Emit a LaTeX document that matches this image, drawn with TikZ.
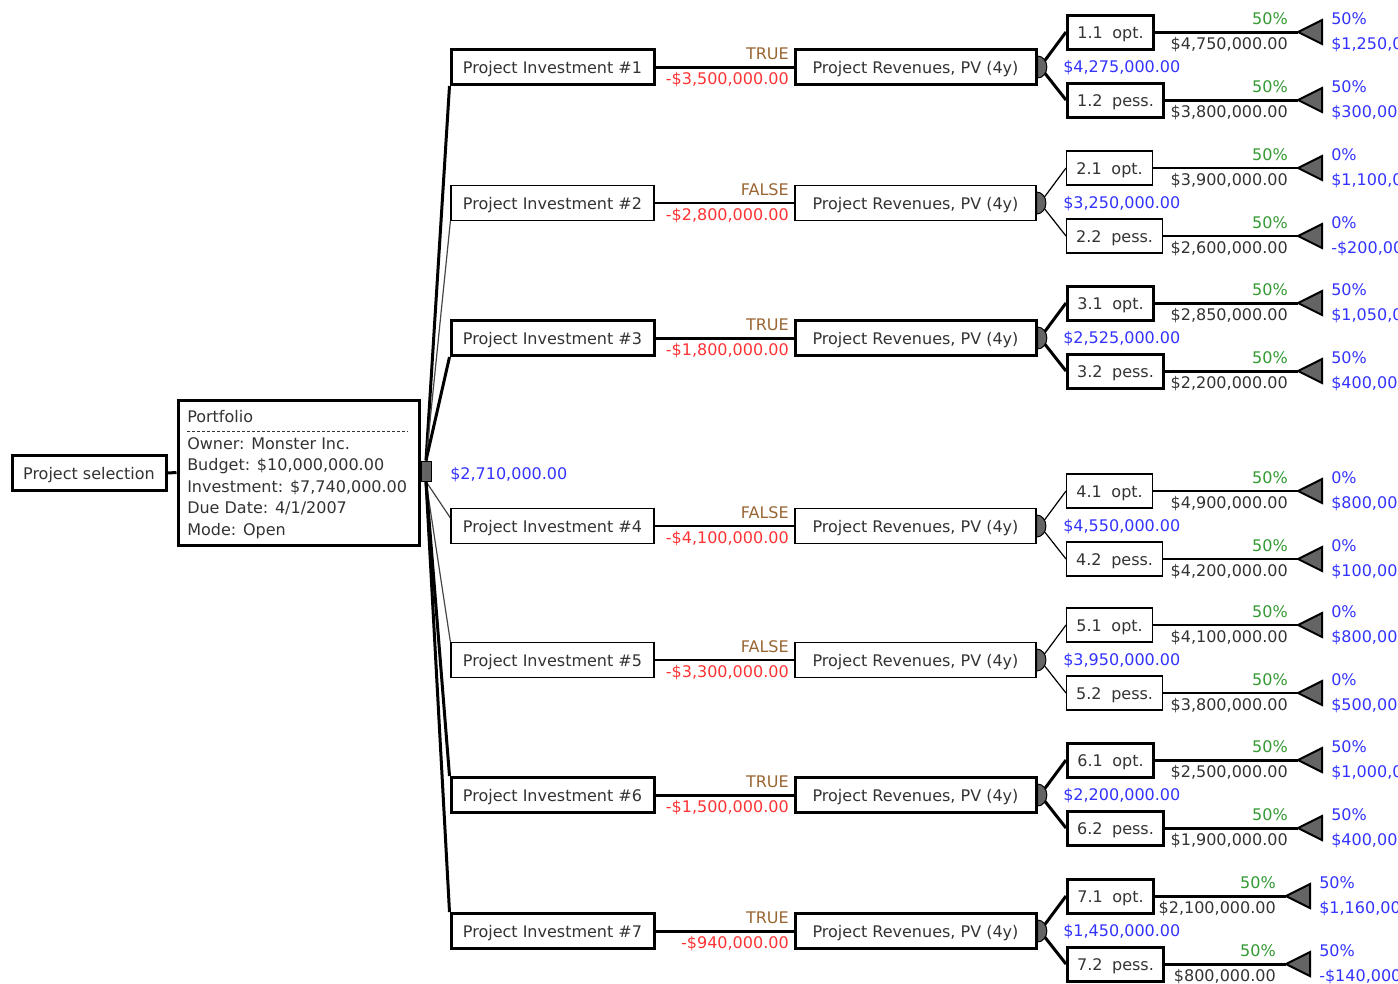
\documentclass[tikz,border=0pt]{standalone}
\usepackage{fontspec}
\setmainfont{DejaVu Sans}
\usetikzlibrary{calc}
\definecolor{txtgray}{RGB}{51,51,51}
\definecolor{evblue}{RGB}{51,51,255}
\definecolor{probgreen}{RGB}{51,153,51}
\definecolor{flagbrown}{RGB}{153,102,51}
\definecolor{costred}{RGB}{255,51,51}
\definecolor{nodegray}{RGB}{100,100,100}
\definecolor{thingray}{RGB}{70,70,70}
\pgfdeclarelayer{links}
\pgfsetlayers{links,main}

\begin{document}
\begin{tikzpicture}[x=0.75pt,y=-0.75pt,
  every node/.style={font=\fontsize{12}{14.4}\selectfont, text=txtgray},
  box/.style={draw=black, fill=white, inner sep=0pt, minimum height=26.25pt,
              text height=11.5pt, text depth=2pt},
  lbl/.style={inner sep=0pt, yshift=-1.5pt},
  heavy/.style={line width=2.25pt},
  light/.style={line width=0.9pt, draw=thingray},
]
\useasboundingbox (0,0) rectangle (1398,983);
\clip (0,0) rectangle (1398,983);

% root node and portfolio summary
\node[box, heavy, minimum width=115.5pt] (sel) at (89,473) {Project selection};
\node[box, heavy, minimum width=180.75pt, minimum height=108.75pt] (port) at (298.5,472.5) {};
\node[lbl, anchor=mid west] (ptitle) at (187,417) {Portfolio};
\draw[dash pattern=on 2.25pt off 1.5pt, line width=0.75pt, draw=txtgray] (187,431) -- (408,431);
\node[lbl, anchor=mid west] (powner) at (187,444) {Owner: Monster Inc.};
\node[lbl, anchor=mid west] (pbudget) at (187,465) {Budget: \$10,000,000.00};
\node[lbl, anchor=mid west] (pinvest) at (187,487) {Investment: \$7,740,000.00};
\node[lbl, anchor=mid west] (pdue) at (187,508) {Due Date: 4/1/2007};
\node[lbl, anchor=mid west] (pmode) at (187,530) {Mode: Open};
\draw[heavy] (sel.east) -- (port.west);

% decision node
\node[draw=black, fill=nodegray, line width=0.75pt, minimum width=7.5pt, minimum height=15pt, inner sep=0pt] (dec) at (426,471) {};
\node[lbl, anchor=mid west, text=evblue] (decev) at (450,474) {\$2,710,000.00};

% one branch per project
\foreach \n/\c/\lw/\tf/\cost/\ev/\va/\vb/\pa/\pb/\ra/\rb/\tx in {
  1/67/2.25/TRUE/{-\$3,500,000.00}/{\$4,275,000.00}/{\$4,750,000.00}/{\$3,800,000.00}/{50\%}/{50\%}/{\$1,250,000.00}/{\$300,000.00}/1298,
  2/203/0.9/FALSE/{-\$2,800,000.00}/{\$3,250,000.00}/{\$3,900,000.00}/{\$2,600,000.00}/{0\%}/{0\%}/{\$1,100,000.00}/{-\$200,000.00}/1298,
  3/338/2.25/TRUE/{-\$1,800,000.00}/{\$2,525,000.00}/{\$2,850,000.00}/{\$2,200,000.00}/{50\%}/{50\%}/{\$1,050,000.00}/{\$400,000.00}/1298,
  4/526/0.9/FALSE/{-\$4,100,000.00}/{\$4,550,000.00}/{\$4,900,000.00}/{\$4,200,000.00}/{0\%}/{0\%}/{\$800,000.00}/{\$100,000.00}/1298,
  5/660/0.9/FALSE/{-\$3,300,000.00}/{\$3,950,000.00}/{\$4,100,000.00}/{\$3,800,000.00}/{0\%}/{0\%}/{\$800,000.00}/{\$500,000.00}/1298,
  6/795/2.25/TRUE/{-\$1,500,000.00}/{\$2,200,000.00}/{\$2,500,000.00}/{\$1,900,000.00}/{50\%}/{50\%}/{\$1,000,000.00}/{\$400,000.00}/1298,
  7/931/2.25/TRUE/{-\$940,000.00}/{\$1,450,000.00}/{\$2,100,000.00}/{\$800,000.00}/{50\%}/{50\%}/{\$1,160,000.00}/{-\$140,000.00}/1286%
}{
  \node[box, line width=\lw pt, minimum width=152.25pt] (inv\n) at (552.5,\c) {Project Investment \#\n};
  \node[box, line width=\lw pt, minimum width=180.75pt] (rev\n) at (915.5,\c) {Project Revenues, PV (4y)};
  \node[box, line width=\lw pt, minimum width=64.5pt, minimum height=25.5pt, anchor=west] (oa\n) at (1066,\c-35) {\n.1\hspace{0.6em}opt.};
  \node[box, line width=\lw pt, minimum width=72pt, minimum height=25.5pt, anchor=west] (ob\n) at (1066,\c+33) {\n.2\hspace{0.6em}pess.};
  \coordinate (ch\n) at (1040,\c);
  \coordinate (ta\n) at (\tx,\c-35);
  \coordinate (tb\n) at (\tx,\c+33);
  % connectors
  \draw[line width=\lw pt] (inv\n.east) -- (rev\n.west);
  \draw[line width=\lw pt] (ch\n) -- (oa\n.west);
  \draw[line width=\lw pt] (ch\n) -- (ob\n.west);
  \draw[line width=\lw pt] (oa\n.east) -- (ta\n);
  \draw[line width=\lw pt] (ob\n.east) -- (tb\n);
  % chance node
  \filldraw[fill=nodegray, draw=black, line width=0.75pt] (rev\n.east) ++(0,-11)
     arc[start angle=90, end angle=-90, x radius=7pt, y radius=8.25pt] -- cycle;
  % end nodes
  \filldraw[fill=nodegray, draw=black, line width=1.5pt, line join=miter] (ta\n) -- ++(24,-12) -- ++(0,24) -- cycle;
  \filldraw[fill=nodegray, draw=black, line width=1.5pt, line join=miter] (tb\n) -- ++(24,-12) -- ++(0,24) -- cycle;
  % labels
  \node[lbl, anchor=mid east, text=flagbrown] (tf\n) at (789,\c-13) {\tf};
  \node[lbl, anchor=mid east, text=costred] (cost\n) at (789,\c+12) {\cost};
  \node[lbl, anchor=mid west, text=evblue] (ev\n) at (1063,\c) {\ev};
  \node[lbl, anchor=mid east, text=probgreen] (qa\n) at (\tx-10,\c-48) {50\%};
  \node[lbl, anchor=mid east] (va\n) at (\tx-10,\c-23) {\va};
  \node[lbl, anchor=mid east, text=probgreen] (qb\n) at (\tx-10,\c+20) {50\%};
  \node[lbl, anchor=mid east] (vb\n) at (\tx-10,\c+45) {\vb};
  \node[lbl, anchor=mid west, text=evblue] (pa\n) at (\tx+33,\c-48) {\pa};
  \node[lbl, anchor=mid west, text=evblue] (ra\n) at (\tx+33,\c-23) {\ra};
  \node[lbl, anchor=mid west, text=evblue] (pb\n) at (\tx+33,\c+20) {\pb};
  \node[lbl, anchor=mid west, text=evblue] (rb\n) at (\tx+33,\c+45) {\rb};
}

% decision branches, under the boxes
\begin{pgfonlayer}{links}
\draw[heavy] (dec.north) -- (inv1.south west);
\draw[light] (dec.north) -- (inv2.south west);
\draw[heavy] (dec.north) -- (inv3.south west);
\draw[light] (dec.south) -- ($(inv4.north west)+(0,10)$);
\draw[light] (dec.south) -- (inv5.north west);
\draw[heavy] (dec.south) -- (inv6.north west);
\draw[heavy] (dec.south) -- (inv7.north west);
\end{pgfonlayer}
\end{tikzpicture}
\end{document}
